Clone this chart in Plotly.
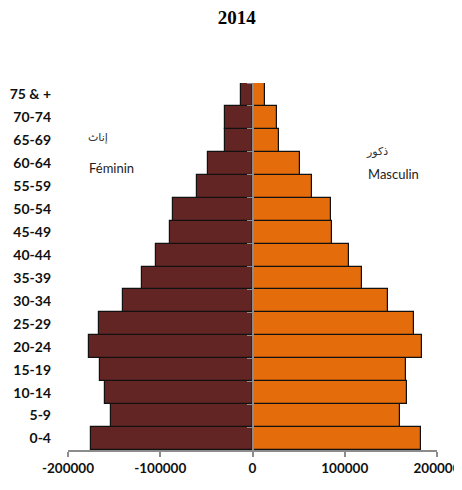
import plotly.graph_objects as go

age_groups = ["0-4", "5-9", "10-14", "15-19", "20-24", "25-29", "30-34", "35-39",
              "40-44", "45-49", "50-54", "55-59", "60-64", "65-69", "70-74", "75 & +"]
female = [174700, 153300, 160200, 164900, 177200, 166700, 140200, 119600,
          105100, 89500, 86300, 60200, 48300, 29800, 29800, 13000]
male = [183000, 160100, 167400, 166600, 183700, 174600, 147400, 119100,
        105000, 86500, 85400, 64800, 51800, 28900, 26800, 13700]
x_ticks = [-200000, -100000, 0, 100000, 200000]

label_font = dict(family="Lato, Open Sans, sans-serif", size=13, color="#222222")
arabic_font = dict(family="Noto Sans, DejaVu Sans, sans-serif", size=11, color="#333333")

fig = go.Figure()
fig.add_trace(go.Bar(
    y=age_groups, x=[-v for v in female], orientation="h", name="Féminin",
    marker=dict(color="#632523", line=dict(color="#111111", width=1.2)),
))
fig.add_trace(go.Bar(
    y=age_groups, x=male, orientation="h", name="Masculin",
    marker=dict(color="#E46C0A", line=dict(color="#111111", width=1.2)),
))
# invisible trace so the centre axis gets the categories
fig.add_trace(go.Scatter(y=age_groups, x=[0] * len(age_groups), yaxis="y2",
                         mode="markers", marker=dict(opacity=0), hoverinfo="skip"))

# page body has an 8px margin, so the figure is a bit smaller than the window
fig.update_layout(
    width=454, height=482,
    margin=dict(l=60, r=25, t=75, b=40),
    paper_bgcolor="white", plot_bgcolor="white",
    barmode="relative", bargap=0,
    showlegend=False,
    title=dict(text="<b>2014</b>", x=0.504, xanchor="center", y=0.980, yanchor="middle",
               font=dict(family="Liberation Serif, Times New Roman, serif", size=19, color="black")),
    xaxis=dict(
        range=[-200000, 200000], tickvals=x_ticks, ticktext=[str(v) for v in x_ticks],
        showgrid=False, zeroline=False, automargin=False,
        showline=True, linecolor="#8c8c8c", linewidth=1.5,
        ticks="outside", tickcolor="#8c8c8c", ticklen=5, tickwidth=1.5,
        tickfont=dict(family="Lato, Open Sans, sans-serif", size=13.5, color="#111111", weight="bold"),
        fixedrange=True
    ),
    yaxis=dict(
        categoryorder="array", categoryarray=age_groups,
        range=[-0.5, len(age_groups) - 0.5],
        showgrid=False, zeroline=False, showline=False, ticks="", automargin=False,
        ticklabelstandoff=16,
        tickfont=dict(family="Lato, Open Sans, sans-serif", size=14, color="#111111", weight="bold"),
        fixedrange=True
    ),
    yaxis2=dict(
        overlaying="y", matches="y", anchor="free", position=0.5,
        categoryorder="array", categoryarray=age_groups,
        showgrid=False, zeroline=False, showticklabels=False, automargin=False,
        showline=True, linecolor="#8c8c8c", linewidth=2,
        ticks="outside", tickson="boundaries", ticklen=5, tickcolor="#8c8c8c",
        fixedrange=True
    ),
)

for x, y, text, font in [(0.081, 0.853, "إناث", arabic_font),
                         (0.119, 0.768, "Féminin", label_font),
                         (0.837, 0.817, "ذكور", arabic_font),
                         (0.881, 0.752, "Masculin", label_font)]:
    fig.add_annotation(xref="paper", yref="paper", x=x, y=y, text=text,
                       xanchor="center", yanchor="middle", showarrow=False, font=font)

fig.write_html("out.html")
